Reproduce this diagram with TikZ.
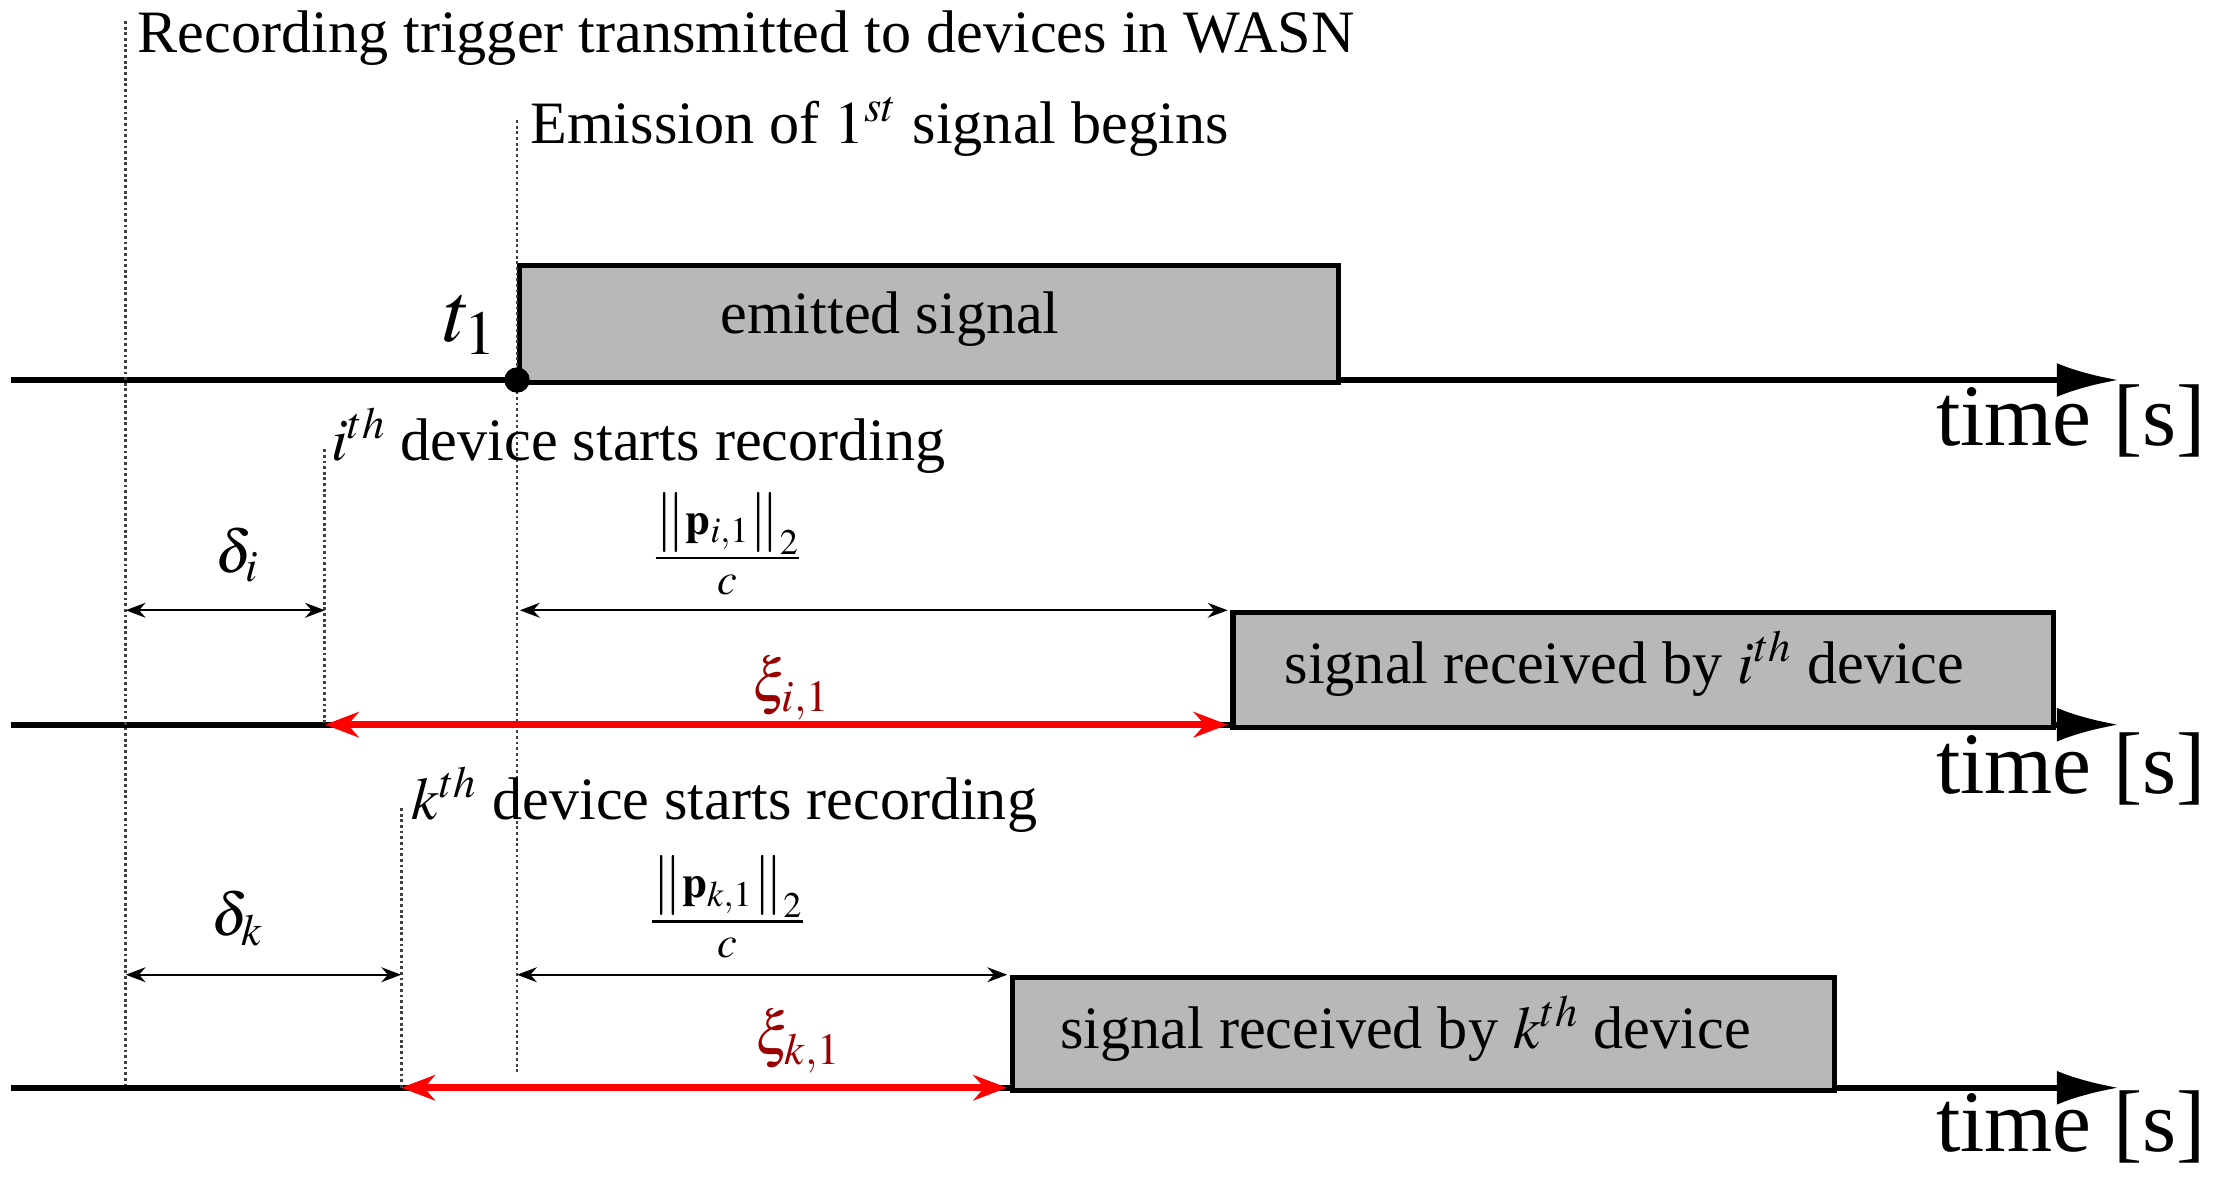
\documentclass[tikz,border=0pt]{standalone}
\usepackage{mathptmx}
\usepackage{fontspec}
\setmainfont{Liberation Serif}
\usetikzlibrary{arrows.meta}
\begin{document}
\begin{tikzpicture}[x=0.5pt,y=-0.5pt,
 axis/.style={line width=2.2pt,-{Latex[length=22pt,width=12pt]}},
 dot/.style={densely dotted,line width=1pt,black!75},
 box/.style={draw,line width=1.8pt,fill=black!28},
 dim/.style={line width=0.8pt,{Stealth[length=7pt]}-{Stealth[length=7pt]}},
 red/.style={line width=2.4pt,color=red,{Stealth[length=12pt]}-{Stealth[length=12pt]}},
 txt/.style={font=\fontsize{21.3}{23}\selectfont,inner sep=0pt},
 tl/.style={font=\fontsize{31}{33}\selectfont,inner sep=0pt,anchor=east}]
\useasboundingbox (0,0) rectangle (1568,836);
% axes
\coordinate (a1s) at (8,269); \coordinate (a1e) at (1500,269);
\coordinate (a2s) at (8,513); \coordinate (a2e) at (1500,513);
\coordinate (a3s) at (8,770); \coordinate (a3e) at (1500,770);
\draw[axis] (a1s)--(a1e); \draw[axis] (a2s)--(a2e); \draw[axis] (a3s)--(a3e);
\node[tl] (tl1) at (1562,298) {time [s]};
\node[tl] (tl2) at (1562,544) {time [s]};
\node[tl] (tl3) at (1562,798) {time [s]};
% boxes
\node[box,minimum width=290pt,minimum height=41.5pt,anchor=north west] (em) at (366,186) {};
\node[txt] at (630,226) {emitted signal};
\node[box,minimum width=290.5pt,minimum height=40.5pt,anchor=north west] (ri) at (871,432) {};
\node[txt] at (1150,470) {signal received by $i^{th}$ device};
\node[box,minimum width=291pt,minimum height=40pt,anchor=north west] (rk) at (715,690) {};
\node[txt] at (995,728) {signal received by $k^{th}$ device};
% dotted lines
\coordinate (d0t) at (89,15); \coordinate (d0b) at (89,768);
\draw[dot] (d0t)--(d0b);
\node[txt,anchor=west] (trig) at (97,27) {Recording trigger transmitted to devices in WASN};
\coordinate (d1t) at (366,85); \coordinate (d1b) at (366,760);
\draw[dot] (d1t)--(d1b);
\node[txt,anchor=west] (emis) at (375,90) {Emission of $1^{st}$ signal begins};
\coordinate (dit) at (230,318); \coordinate (dib) at (230,513);
\draw[dot] (dit)--(dib);
\node[txt,anchor=west] (istart) at (234,312) {$i^{th}$ device starts recording};
\coordinate (dkt) at (284,572); \coordinate (dkb) at (284,770);
\draw[dot] (dkt)--(dkb);
\node[txt,anchor=west] (kstart) at (291,566) {$k^{th}$ device starts recording};
% t1
\node[circle,fill,inner sep=0pt,minimum size=9pt] (t1d) at (366,269) {};
\node[font=\fontsize{30}{32}\selectfont,inner sep=0pt] (t1) at (333,230) {$t_1$};
% dimensions i
\coordinate (ia) at (89,432); \coordinate (ib) at (230,432);
\draw[dim] (ia)--(ib);
\node[txt] (di) at (168,393) {$\delta_i$};
\coordinate (ic) at (368,432); \coordinate (id) at (869,432);
\draw[dim] (ic)--(id);
\node[txt] (fi) at (515,385) {$\frac{\left\|\mathbf{p}_{i,1}\right\|_2}{c}$};
\coordinate (ie) at (230,513); \coordinate (if) at (869,513);
\draw[red] (ie)--(if);
\node[txt,text=red!60!black] (xi) at (560,487) {$\xi_{i,1}$};
% dimensions k
\coordinate (ka) at (89,690); \coordinate (kb) at (284,690);
\draw[dim] (ka)--(kb);
\node[txt] (dk) at (168,650) {$\delta_k$};
\coordinate (kc) at (366,690); \coordinate (kd) at (713,690);
\draw[dim] (kc)--(kd);
\node[txt] (fk) at (515,642) {$\frac{\left\|\mathbf{p}_{k,1}\right\|_2}{c}$};
\coordinate (ke) at (284,770); \coordinate (kf) at (713,770);
\draw[red] (ke)--(kf);
\node[txt,text=red!60!black] (xk) at (565,737) {$\xi_{k,1}$};
\end{tikzpicture}
\end{document}
